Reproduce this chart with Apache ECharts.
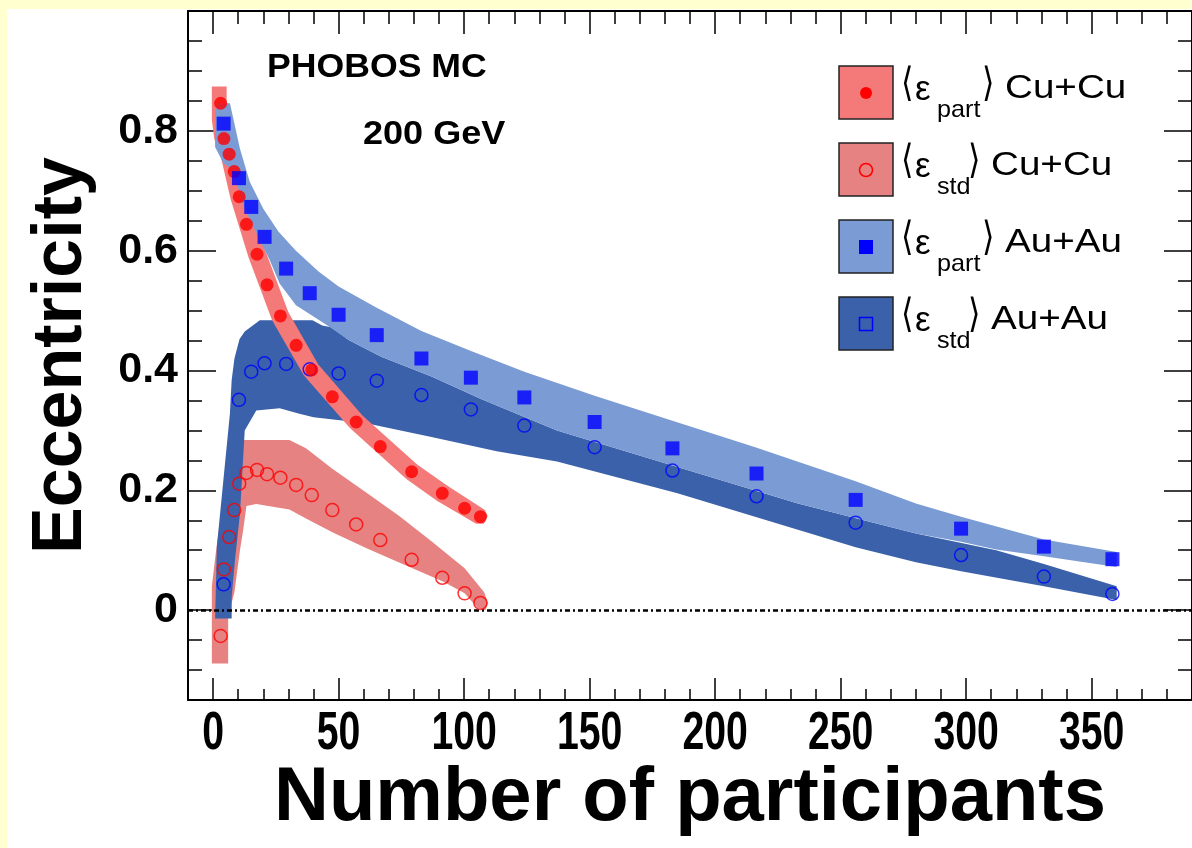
<!DOCTYPE html>
<html><head><meta charset="utf-8">
<script src="https://cdn.jsdelivr.net/npm/echarts@6/dist/echarts.min.js"></script>
<style>html,body{margin:0;padding:0;background:#fff}#c{width:1192px;height:848px}</style>
</head><body><div id="c"></div>
<script>
// ---------- data ----------
const cuNpart   = [3.0, 4.3, 6.4, 8.4, 10.4, 13.3, 17.5, 21.5, 26.8, 33.1, 39.3, 47.5, 57.0, 66.6, 79.1, 91.3, 100.2, 106.5];
const cuEpsPart = [0.846, 0.787, 0.761, 0.732, 0.690, 0.644, 0.594, 0.543, 0.491, 0.442, 0.401, 0.356, 0.314, 0.273, 0.231, 0.195, 0.170, 0.156];
const cuEpsStd  = [-0.043, 0.068, 0.122, 0.167, 0.211, 0.229, 0.234, 0.227, 0.221, 0.209, 0.192, 0.167, 0.143, 0.117, 0.084, 0.054, 0.028, 0.012];

const auNpart   = [4.2, 10.3, 15.2, 20.5, 29.1, 38.5, 50.0, 65.2, 83.0, 102.7, 124.0, 152.0, 183.0, 216.5, 256.0, 298.0, 331.0, 358.3];
const auEpsPart = [0.812, 0.721, 0.673, 0.623, 0.570, 0.529, 0.493, 0.459, 0.420, 0.388, 0.355, 0.314, 0.270, 0.228, 0.184, 0.136, 0.106, 0.085];
const auEpsStd  = [0.043, 0.351, 0.398, 0.412, 0.411, 0.402, 0.395, 0.383, 0.359, 0.335, 0.308, 0.272, 0.233, 0.190, 0.146, 0.092, 0.056, 0.027];

// systematic bands: upper edge (left->right) and lower edge (right->left), [Npart, eps]
const cuPartBandUpper = [[-0.5,0.874],[5.4,0.874],[5.4,0.805],[7.6,0.789],[9.9,0.765],[13.8,0.694],[20.9,0.599],[30.0,0.497],[41.9,0.410],[59.5,0.325],[81.3,0.243],[93.2,0.208],[108.3,0.167],[109.4,0.157]];
const cuPartBandLower = [[107.9,0.144],[104.8,0.144],[89.3,0.182],[77.0,0.219],[54.5,0.304],[36.1,0.392],[23.5,0.484],[14.1,0.589],[7.0,0.686],[3.0,0.758],[0.5,0.786],[-0.5,0.818]];

const cuStdBandUpper = [[-0.5,-0.089],[-0.5,0.040],[1.2,0.100],[6.0,0.250],[10.0,0.284],[30.4,0.284],[37.0,0.270],[47.5,0.236],[60.7,0.197],[73.9,0.158],[87.0,0.115],[100.2,0.070],[108.0,0.030],[109.5,0.012]];
const cuStdBandLower = [[108.5,0.000],[105.5,0.003],[100.2,0.028],[92.0,0.047],[87.0,0.056],[73.9,0.080],[60.7,0.104],[47.5,0.130],[37.0,0.153],[30.4,0.168],[17.2,0.177],[13.3,0.174],[12.0,0.134],[10.7,0.100],[8.5,0.030],[6.0,-0.010],[6.0,-0.089]];

const auPartBandUpper = [[0.8,0.830],[2.0,0.846],[6.7,0.846],[10.7,0.770],[14.6,0.715],[20.0,0.670],[26.0,0.632],[33.0,0.600],[42.0,0.565],[50.0,0.540],[65.0,0.505],[83.0,0.466],[103.0,0.432],[124.0,0.398],[152.0,0.358],[183.0,0.316],[216.0,0.272],[256.0,0.215],[280.0,0.178],[298.0,0.156],[331.0,0.118],[360.0,0.097]];
const auPartBandLower = [[360.0,0.072],[331.0,0.090],[312.0,0.101],[298.0,0.114],[280.0,0.128],[233.0,0.178],[185.0,0.239],[137.0,0.300],[107.0,0.352],[87.0,0.390],[67.0,0.423],[54.0,0.451],[46.0,0.474],[40.0,0.490],[33.0,0.509],[26.5,0.545],[22.5,0.585],[17.2,0.630],[12.0,0.675],[8.0,0.735],[4.1,0.746],[0.8,0.773]];

const auStdBandUpper = [[0.8,-0.014],[1.5,0.106],[4.1,0.217],[6.7,0.328],[7.4,0.384],[8.5,0.420],[10.5,0.452],[12.6,0.465],[18.6,0.484],[39.6,0.484],[43.5,0.475],[47.0,0.472],[54.0,0.451],[67.0,0.423],[87.0,0.390],[107.0,0.352],[137.0,0.300],[185.0,0.239],[233.0,0.178],[280.0,0.128],[312.0,0.100],[331.0,0.077],[360.0,0.040]];
const auStdBandLower = [[360.0,0.017],[331.0,0.040],[298.0,0.065],[280.0,0.080],[256.0,0.105],[233.0,0.134],[185.0,0.195],[137.0,0.248],[113.0,0.265],[87.0,0.289],[61.0,0.312],[40.0,0.322],[34.0,0.328],[26.5,0.337],[17.2,0.333],[12.6,0.300],[10.7,0.161],[8.7,0.083],[7.4,0.022],[7.4,-0.014]];

const xMajorTicks = [0, 50, 100, 150, 200, 250, 300, 350];
const xMinorTicks = [10,20,30,40,60,70,80,90,110,120,130,140,160,170,180,190,210,220,230,240,260,270,280,290,310,320,330,340,360,370,380];
const yMajorTicks = [0, 0.2, 0.4, 0.6, 0.8];
const yMinorTicks = [-0.1,-0.05,0.05,0.1,0.15,0.25,0.3,0.35,0.45,0.5,0.55,0.65,0.7,0.75,0.85,0.9,0.95];

const legendRows = [
  {sub:'part', sys:'Cu+Cu'},
  {sub:'std',  sys:'Cu+Cu'},
  {sub:'part', sys:'Au+Au'},
  {sub:'std',  sys:'Au+Au'}
];

// ---------- styles ----------
const C_CU_PART = '#F47A7A', C_CU_STD = '#E68282', C_AU_PART = '#7B9BD5', C_AU_STD = '#3A61A9';
const SANS = '"Liberation Sans", Arial, Helvetica, sans-serif';

const chart = echarts.init(document.getElementById('c'), null, {renderer:'canvas'});

function band(upper, lower, color, z) {
  const pts = upper.concat(lower);
  return {
    type:'custom', z, silent:true, animation:false, data: pts,
    renderItem(params, api) {
      if (params.dataIndex !== 0) return null;
      return {type:'polygon', shape:{points: pts.map(p => api.coord(p))}, style:{fill:color}};
    }
  };
}
function pairs(xs, ys) { return xs.map((x, i) => [x, ys[i]]); }

const tickLine = {color:'#000', width:1.5};
function xAx(pos, ticks, len, lineShow, named) {
  const a = {type:'value', min:-10, max:390, position:pos, gridIndex:0,
    axisLine:{show:lineShow, onZero:false, lineStyle:{color:'#000', width:2}},
    axisTick:{show:true, inside:true, length:len, customValues:ticks, lineStyle:tickLine},
    axisLabel:{show:false}, splitLine:{show:false}, minorTick:{show:false}};
  if (named) {
    a.name = 'Number of participants'; a.nameLocation = 'middle'; a.nameGap = 61;
    a.nameTextStyle = {color:'#000', fontFamily:SANS, fontWeight:'bold', fontSize:76};
  }
  return a;
}
function yAx(pos, ticks, len, lineShow, labels) {
  const a = {type:'value', min:-0.15, max:1.0, position:pos, gridIndex:0,
    axisLine:{show:lineShow, onZero:false, lineStyle:{color:'#000', width:2}},
    axisTick:{show:true, inside:true, length:len, customValues:ticks, lineStyle:tickLine},
    axisLabel:{show:false}, splitLine:{show:false}, minorTick:{show:false}};
  if (labels) {
    a.axisLabel = {show:true, customValues:ticks, margin:10, color:'#000', fontFamily:SANS, fontWeight:'bold', fontSize:43,
      formatter: v => (v === 0 ? '0' : String(Math.round(v*10)/10))};
    a.name = 'Eccentricity'; a.nameLocation = 'middle'; a.nameGap = 91;
    a.nameTextStyle = {color:'#000', fontFamily:SANS, fontWeight:'bold', fontSize:70};
  }
  return a;
}

const txt = (text, x, y, size, opts) => Object.assign({type:'text', x, y, scaleX:1,
  style:{text, fill:'#000', fontFamily:SANS, fontSize:size, align:'left', verticalAlign:'middle', textAlign:'left', textVerticalAlign:'middle'}}, opts || {});

// static graphics (decoration, annotations, legend)
const graphics = [
  {type:'rect', shape:{x:0, y:0, width:7, height:848}, style:{fill:'#FFFFD0'}, z:0},
  {type:'rect', shape:{x:0, y:0, width:1192, height:9}, style:{fill:'#FFFFD0'}, z:0}
];
const g1 = txt('PHOBOS MC', 267, 68, 33, {scaleX:1.08}); g1.style.fontWeight = 'bold'; graphics.push(g1);
const g2 = txt('200 GeV', 363, 135, 34, {scaleX:1.06}); g2.style.fontWeight = 'bold'; graphics.push(g2);

const boxColors = [C_CU_PART, C_CU_STD, C_AU_PART, C_AU_STD];
legendRows.forEach((r, i) => {
  const top = 66 + i*77, cx = 866, cy = top + 27;
  graphics.push({type:'rect', shape:{x:839, y:top, width:54, height:53}, style:{fill:boxColors[i], stroke:'#222', lineWidth:1.5}});
  if (i === 0) graphics.push({type:'circle', shape:{cx, cy, r:6}, style:{fill:'#ff0000'}});
  if (i === 1) graphics.push({type:'circle', shape:{cx, cy, r:6.5}, style:{fill:'none', stroke:'#ff0000', lineWidth:1.5}});
  if (i === 2) graphics.push({type:'rect', shape:{x:cx-7, y:cy-7, width:14, height:14}, style:{fill:'#0000ff'}});
  if (i === 3) graphics.push({type:'rect', shape:{x:cx-6.5, y:cy-6.5, width:13, height:13}, style:{fill:'none', stroke:'#0000ff', lineWidth:1.5}});
  const ty = top + 20;
  const subW = r.sub === 'part' ? 45 : 31;
  const lb = txt('\u27E8', 901, ty, 40, {scaleX:0.8}); lb.style.fontFamily = '"DejaVu Sans", sans-serif'; graphics.push(lb);
  graphics.push(txt('\u03B5', 915, ty + 4, 35));
  graphics.push(txt(r.sub, 937, ty + 24, 24, {scaleX:1.05}));
  const bx = 937 + subW;
  const rb = txt('\u27E9', bx, ty, 40, {scaleX:0.8}); rb.style.fontFamily = '"DejaVu Sans", sans-serif'; graphics.push(rb);
  graphics.push(txt(r.sys, bx + 23, ty + 3, 33, {scaleX:1.17}));
});

const option = {
  backgroundColor:'#fff',
  animation:false,
  grid:{left:188, top:11, width:1012, height:689, containLabel:false},
  xAxis:[ xAx('bottom', xMajorTicks, 22, true, true), xAx('bottom', xMinorTicks, 11, false, false),
          xAx('top', xMajorTicks, 23, true, false), xAx('top', xMinorTicks, 13, false, false) ],
  yAxis:[ yAx('left', yMajorTicks, 28, true, true), yAx('left', yMinorTicks, 14, false, false),
          yAx('right', yMajorTicks, 28, true, false), yAx('right', yMinorTicks, 14, false, false) ],
  graphic: graphics,
  series:[
    band(cuStdBandUpper, cuStdBandLower, C_CU_STD, 1),
    band(auStdBandUpper, auStdBandLower, C_AU_STD, 2),
    band(cuPartBandUpper, cuPartBandLower, C_CU_PART, 3),
    band(auPartBandUpper, auPartBandLower, C_AU_PART, 4),
    {type:'line', data:[], z:5, markLine:{silent:true, symbol:'none', label:{show:false}, animation:false,
      lineStyle:{color:'#000', width:2.5, type:[5,3,2,3]}, data:[{yAxis:0}]}},
    {type:'scatter', z:10, data:pairs(cuNpart, cuEpsStd), symbol:'circle', symbolSize:13,
      itemStyle:{color:'rgba(0,0,0,0)', borderColor:'#ff0000', borderWidth:1.5}},
    {type:'scatter', z:10, data:pairs(auNpart, auEpsStd), symbol:'circle', symbolSize:13,
      itemStyle:{color:'rgba(0,0,0,0)', borderColor:'#0000ff', borderWidth:1.5}},
    {type:'scatter', z:11, data:pairs(cuNpart, cuEpsPart), symbol:'circle', symbolSize:13,
      itemStyle:{color:'#ff0000'}},
    {type:'scatter', z:11, data:pairs(auNpart, auEpsPart), symbol:'rect', symbolSize:14,
      itemStyle:{color:'#0000ff'}}
  ]
};
chart.setOption(option);

// x tick labels: condensed bold digits placed through the x axis scale
const yLab = chart.convertToPixel({yAxisIndex:0}, -0.15) + 34;
const xLabels = xMajorTicks.map(v => {
  const px = chart.convertToPixel({xAxisIndex:0}, v);
  return {type:'text', x:px, y:yLab, scaleX:0.74,
    style:{text:String(v), fill:'#000', fontFamily:SANS, fontWeight:'bold', fontSize:53,
      align:'center', verticalAlign:'middle', textAlign:'center', textVerticalAlign:'middle'}};
});
chart.setOption({graphic: graphics.concat(xLabels)});
</script></body></html>
